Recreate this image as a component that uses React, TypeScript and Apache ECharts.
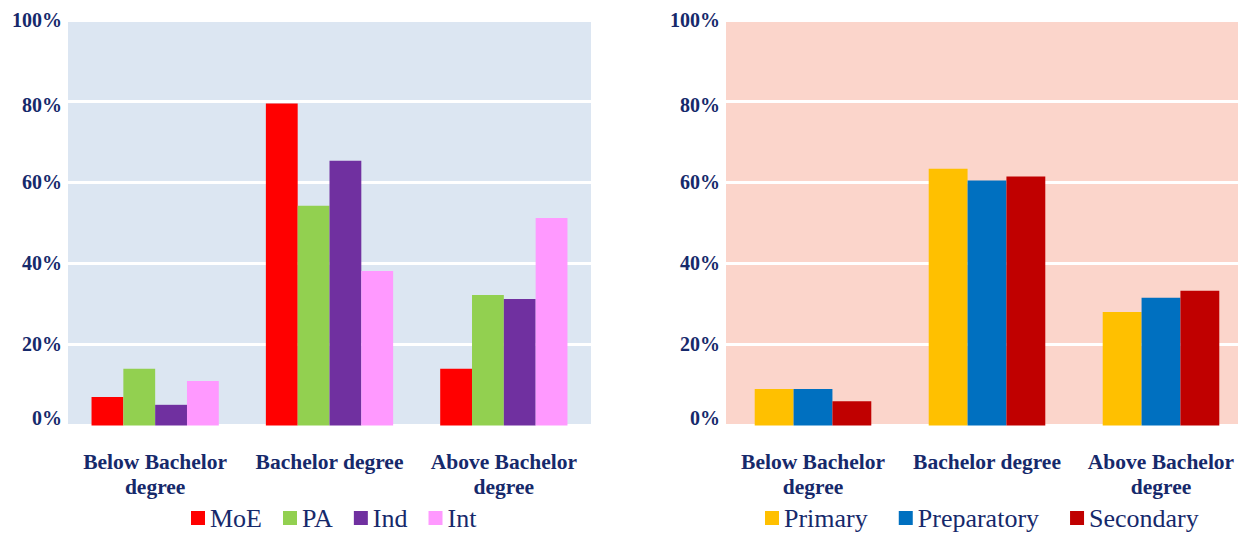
import React, { useEffect, useRef } from "react";
import * as echarts from "echarts";

const categories = ["Below Bachelor\ndegree", "Bachelor degree", "Above Bachelor\ndegree"];
const yTicks = [0, 20, 40, 60, 80, 100];

const leftSeriesNames = ["MoE", "PA", "Ind", "Int"];
const moe = [7.0, 79.4, 14.0];
const pa = [14.0, 54.2, 32.2];
const ind = [5.1, 65.3, 31.2];
const intl = [11.0, 38.1, 51.2];
const leftColors = ["#FF0000", "#92D050", "#7030A0", "#FF99FF"];

const rightSeriesNames = ["Primary", "Preparatory", "Secondary"];
const primary = [9.0, 63.3, 28.0];
const preparatory = [9.0, 60.4, 31.5];
const secondary = [6.0, 61.4, 33.2];
const rightColors = ["#FFC000", "#0070C0", "#C00000"];

const FONT = "'Liberation Serif', 'Times New Roman', serif";
const NAVY = "#16296B";

export default function App() {
  const ref = useRef<HTMLDivElement>(null);
  useEffect(() => {
    if (!ref.current) return;
    const chart = echarts.init(ref.current, undefined, { renderer: "svg" });
    const leftData = [moe, pa, ind, intl];
    const rightData = [primary, preparatory, secondary];
    const labelStyle = { fontFamily: FONT, fontWeight: "bold", fontSize: 20, color: NAVY };
    const yAxisBase = (gridIndex: number) => ({
      type: "value",
      gridIndex,
      min: 0,
      max: 100,
      interval: 20,
      axisLine: { show: false },
      axisTick: { show: false },
      splitLine: { show: true, lineStyle: { color: "#FFFFFF", width: 3 } },
      axisLabel: {
        formatter: (v: number) => {
          if (!yTicks.includes(v)) return "";
          if (v === 0) return "{z|0%}";
          if (v === 80) return "{e|80%}";
          return "{n|" + v + "%}";
        },
        ...labelStyle,
        margin: 6,
        rich: {
          z: { ...labelStyle, padding: [0, 0, 16, 0] },
          e: { ...labelStyle, padding: [8, 0, 0, 0] },
          n: { ...labelStyle },
        },
      },
    });
    const xAxisBase = (gridIndex: number) => ({
      type: "category",
      gridIndex,
      data: categories,
      axisLine: { show: false },
      axisTick: { show: false },
      axisLabel: {
        fontFamily: FONT,
        fontWeight: "bold",
        fontSize: 21.5,
        lineHeight: 25,
        color: NAVY,
        margin: 24,
        interval: 0,
      },
    });
    const legendBase = {
      top: 505,
      padding: 0,
      itemWidth: 14,
      itemHeight: 14,
      icon: "rect",
      textStyle: { fontFamily: FONT, fontSize: 26, lineHeight: 26, color: NAVY },
    };
    const option: any = {
      animation: false,
      grid: [
        { left: 68, width: 523, top: 20, bottom: 108.5, show: true, backgroundColor: "#DCE6F2", borderWidth: 0 },
        { left: 726, width: 522, top: 20, bottom: 108.5, show: true, backgroundColor: "#FBD5CB", borderWidth: 0 },
      ],
      xAxis: [xAxisBase(0), xAxisBase(1)],
      yAxis: [yAxisBase(0), yAxisBase(1)],
      legend: [
        { ...legendBase, data: leftSeriesNames, left: 191, itemGap: 21 },
        { ...legendBase, data: rightSeriesNames, left: 765, itemGap: 31 },
      ],
      series: [
        ...leftSeriesNames.map((name, i) => ({
          name,
          type: "bar",
          xAxisIndex: 0,
          yAxisIndex: 0,
          data: leftData[i],
          itemStyle: { color: leftColors[i] },
          barGap: "0%",
          barCategoryGap: "27%",
        })),
        ...rightSeriesNames.map((name, i) => ({
          name,
          type: "bar",
          xAxisIndex: 1,
          yAxisIndex: 1,
          data: rightData[i],
          itemStyle: { color: rightColors[i] },
          barGap: "0%",
          barCategoryGap: "33%",
        })),
      ],
    };
    chart.setOption(option);
    return () => chart.dispose();
  }, []);
  return (
    <div
      style={{ position: "absolute", left: 0, top: 0, width: 1238, height: 534, overflow: "hidden", background: "#FFFFFF" }}
    >
      <div ref={ref} style={{ position: "absolute", left: 0, top: 0, width: 1260, height: 534 }} />
    </div>
  );
}
